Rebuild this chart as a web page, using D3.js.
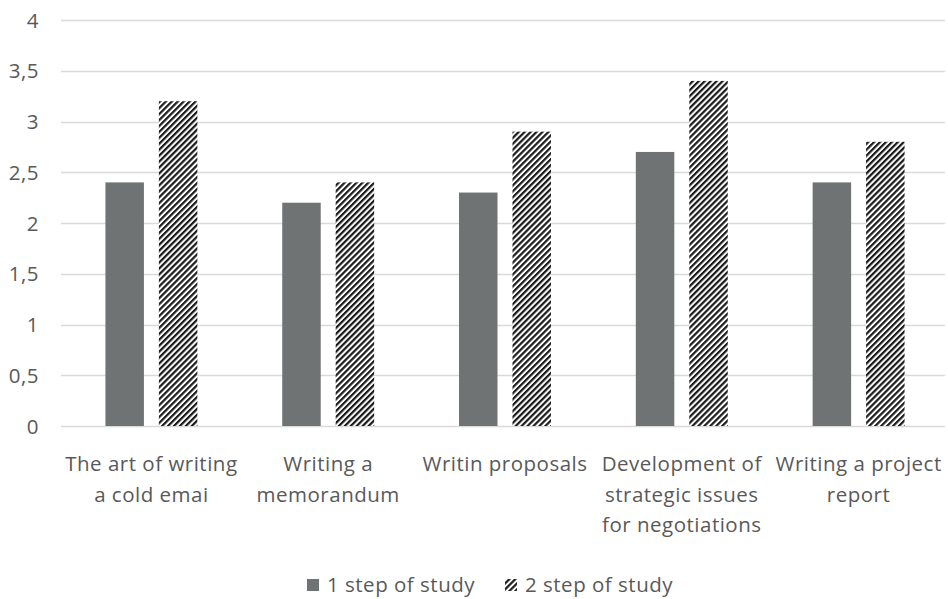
<!DOCTYPE html>
<html>
<head>
<meta charset="utf-8">
<script src="https://cdn.jsdelivr.net/npm/d3@7"></script>
<style>
  body { margin: 0; background: #fff; }
  svg text { font-family: "Open Sans", Lato, sans-serif; fill: #595959; font-size: 20.5px; letter-spacing: 0.5px; }
</style>
</head>
<body>
<svg id="chart"></svg>
<script>
let categories = [
    ["The art of writing", "a cold emai"],
    ["Writing a", "memorandum"],
    ["Writin proposals"],
    ["Development of", "strategic issues", "for negotiations"],
    ["Writing a project", "report"]
];
let series_names = ["1 step of study", "2 step of study"];
let step1 = [2.4, 2.2, 2.3, 2.7, 2.4];
let step2 = [3.2, 2.4, 2.9, 3.4, 2.8];
let y_ticks = [0, 0.5, 1, 1.5, 2, 2.5, 3, 3.5, 4];

let width = 948, height = 599;
let margin = ({ top: 20, right: 3, bottom: 173, left: 61 });

let svg = d3.select('#chart')
    .attr('width', width)
    .attr('height', height);

// штриховка для второй серии
let defs = svg.append('defs');
let pat = defs.append('pattern')
    .attr('id', 'hatch')
    .attr('patternUnits', 'userSpaceOnUse')
    .attr('width', 4.2)
    .attr('height', 4.2)
    .attr('patternTransform', 'rotate(45)');
pat.append('rect').attr('width', 4.2).attr('height', 4.2).attr('fill', '#fff');
pat.append('rect').attr('width', 2.2).attr('height', 4.2).attr('fill', '#1a1a1a');

let x = d3.scaleBand(d3.range(categories.length), [margin.left + 2, width - margin.right + 2])
    .paddingInner(0.48).paddingOuter(0.24);
let x1 = d3.scaleBand([0, 1], [0, x.bandwidth()]).paddingInner(0.28);
let y = d3.scaleLinear([0, 4], [height - margin.bottom, margin.top]);

// сетка
svg.append('g')
    .selectAll('line')
    .data(y_ticks)
    .join('line')
    .attr('x1', margin.left)
    .attr('x2', width - margin.right)
    .attr('y1', d => Math.round(y(d)) + 0.5)
    .attr('y2', d => Math.round(y(d)) + 0.5)
    .attr('stroke', '#d9d9d9')
    .attr('stroke-width', 1.3);

// подписи оси Y
svg.append('g')
    .selectAll('text')
    .data(y_ticks)
    .join('text')
    .attr('x', 39)
    .attr('y', d => y(d))
    .attr('dy', '0.37em')
    .attr('text-anchor', 'end')
    .text(d => String(d).replace('.', ','));

let data = categories.map((c, i) => [step1[i], step2[i]]);
let groups = svg.append('g')
    .selectAll('g')
    .data(data)
    .join('g')
    .attr('transform', (d, i) => `translate(${x(i)},0)`);

groups.selectAll('rect')
    .data(d => d)
    .join('rect')
    .attr('x', (d, j) => x1(j))
    .attr('y', d => y(d))
    .attr('width', x1.bandwidth())
    .attr('height', d => y(0) - y(d))
    .attr('fill', (d, j) => j === 0 ? '#707374' : 'url(#hatch)');

// подписи категорий
let labels = svg.append('g')
    .selectAll('text')
    .data(categories)
    .join('text')
    .attr('x', (d, i) => x(i) + x.bandwidth() / 2)
    .attr('y', 471)
    .attr('text-anchor', 'middle');
labels.selectAll('tspan')
    .data(d => d)
    .join('tspan')
    .attr('x', function () { return d3.select(this.parentNode).attr('x'); })
    .attr('dy', (d, i) => i === 0 ? 0 : 30.5)
    .text(d => d);

// легенда
let legend = svg.append('g');
let lx = [307, 505];
series_names.forEach((name, j) => {
    legend.append('rect')
        .attr('x', lx[j])
        .attr('y', 579)
        .attr('width', 12)
        .attr('height', 12)
        .attr('fill', j === 0 ? '#707374' : 'url(#hatch)');
    legend.append('text')
        .attr('x', lx[j] + 20)
        .attr('y', 592)
        .text(name);
});
</script>
</body>
</html>
